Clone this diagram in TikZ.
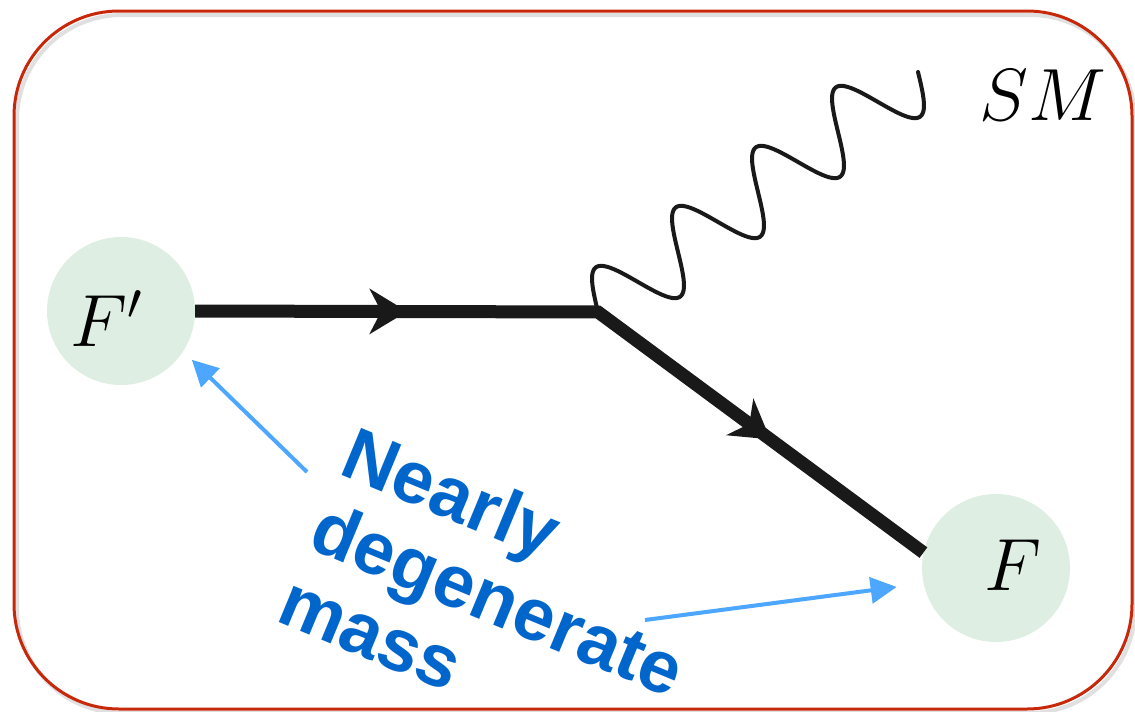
\RequirePackage{fix-cm}
\documentclass[tikz,border=0pt]{standalone}
\usepackage{fontspec}
\newfontfamily\labelsans{Liberation Sans}
\usetikzlibrary{arrows.meta,decorations.markings}
\definecolor{framered}{RGB}{200,40,10}
\definecolor{blobgreen}{RGB}{223,238,226}
\definecolor{labelblue}{RGB}{0,102,204}
\definecolor{pointerblue}{RGB}{77,166,255}
\definecolor{lineblack}{RGB}{25,25,25}
\tikzset{
  blob/.style={circle, fill=blobgreen, minimum size=148pt, inner sep=0pt},
  mathlabel/.style={inner sep=0pt, font=\fontsize{74}{80}\selectfont},
  bluetext/.style={inner sep=0pt, rotate=-22.5, text=labelblue,
    font=\labelsans\bfseries\fontsize{74}{80}\selectfont},
  fermion/.style={draw=lineblack, line width=13pt, line join=miter,
    postaction={decorate},
    decoration={markings,
      mark=at position 212pt with {\arrow{Stealth[length=38pt,width=46pt,inset=12pt,line width=0pt]}},
      mark=at position 617pt with {\arrow{Stealth[length=38pt,width=46pt,inset=12pt,line width=0pt]}}}},
  photon/.style={draw=lineblack, line width=4pt, line cap=round},
  pointer/.style={draw=pointerblue, line width=4pt,
    -{Triangle[length=26pt,width=26pt]}},
  frameline/.style={draw=framered, line width=3pt, rounded corners=105pt}
}
\begin{document}
\begin{tikzpicture}[x=1pt,y=-1pt]
\useasboundingbox (0,0) rectangle (1135,712);
% frame with faint shadow
\draw[black!12, line width=4pt, rounded corners=105pt] (17,15) rectangle (1135,713);
\draw[frameline] (14,11) rectangle (1132,709);

% particle blobs
\node[blob] (Fp) at (121,311) {};
\node[blob] (F) at (996,568) {};
\node[mathlabel, anchor=base west] (Fptxt) at (70,346) {$F'$};
\node[mathlabel, anchor=base west] (Ftxt) at (984,590) {$F$};
\node[mathlabel, anchor=base west] (SM) at (979,120) {$SM$};

% vertex
\coordinate (v) at (598,312);

% photon (wavy line)
\draw[photon] plot[domain=0:400, samples=300, smooth]
  ({598+0.8*\x-22.2*sin(3.6*\x)}, {312-0.6*\x-29.6*sin(3.6*\x)});

% fermion line
\draw[fermion] (Fp.east) -- (v) -- (F.168);

% label
\node[bluetext, anchor=base west] (l1) at (337,473) {Nearly};
\node[bluetext, anchor=base west] (l2) at (306,547) {degenerate};
\node[bluetext, anchor=base west] (l3) at (274,620) {mass};

% pointers
\coordinate (p1) at (307,472);
\coordinate (p2) at (645,620);
\draw[pointer, shorten >=12pt] (p1) -- (Fp.-33);
\draw[pointer, shorten >=27pt] (p2) -- (F.192);
\end{tikzpicture}
\end{document}
